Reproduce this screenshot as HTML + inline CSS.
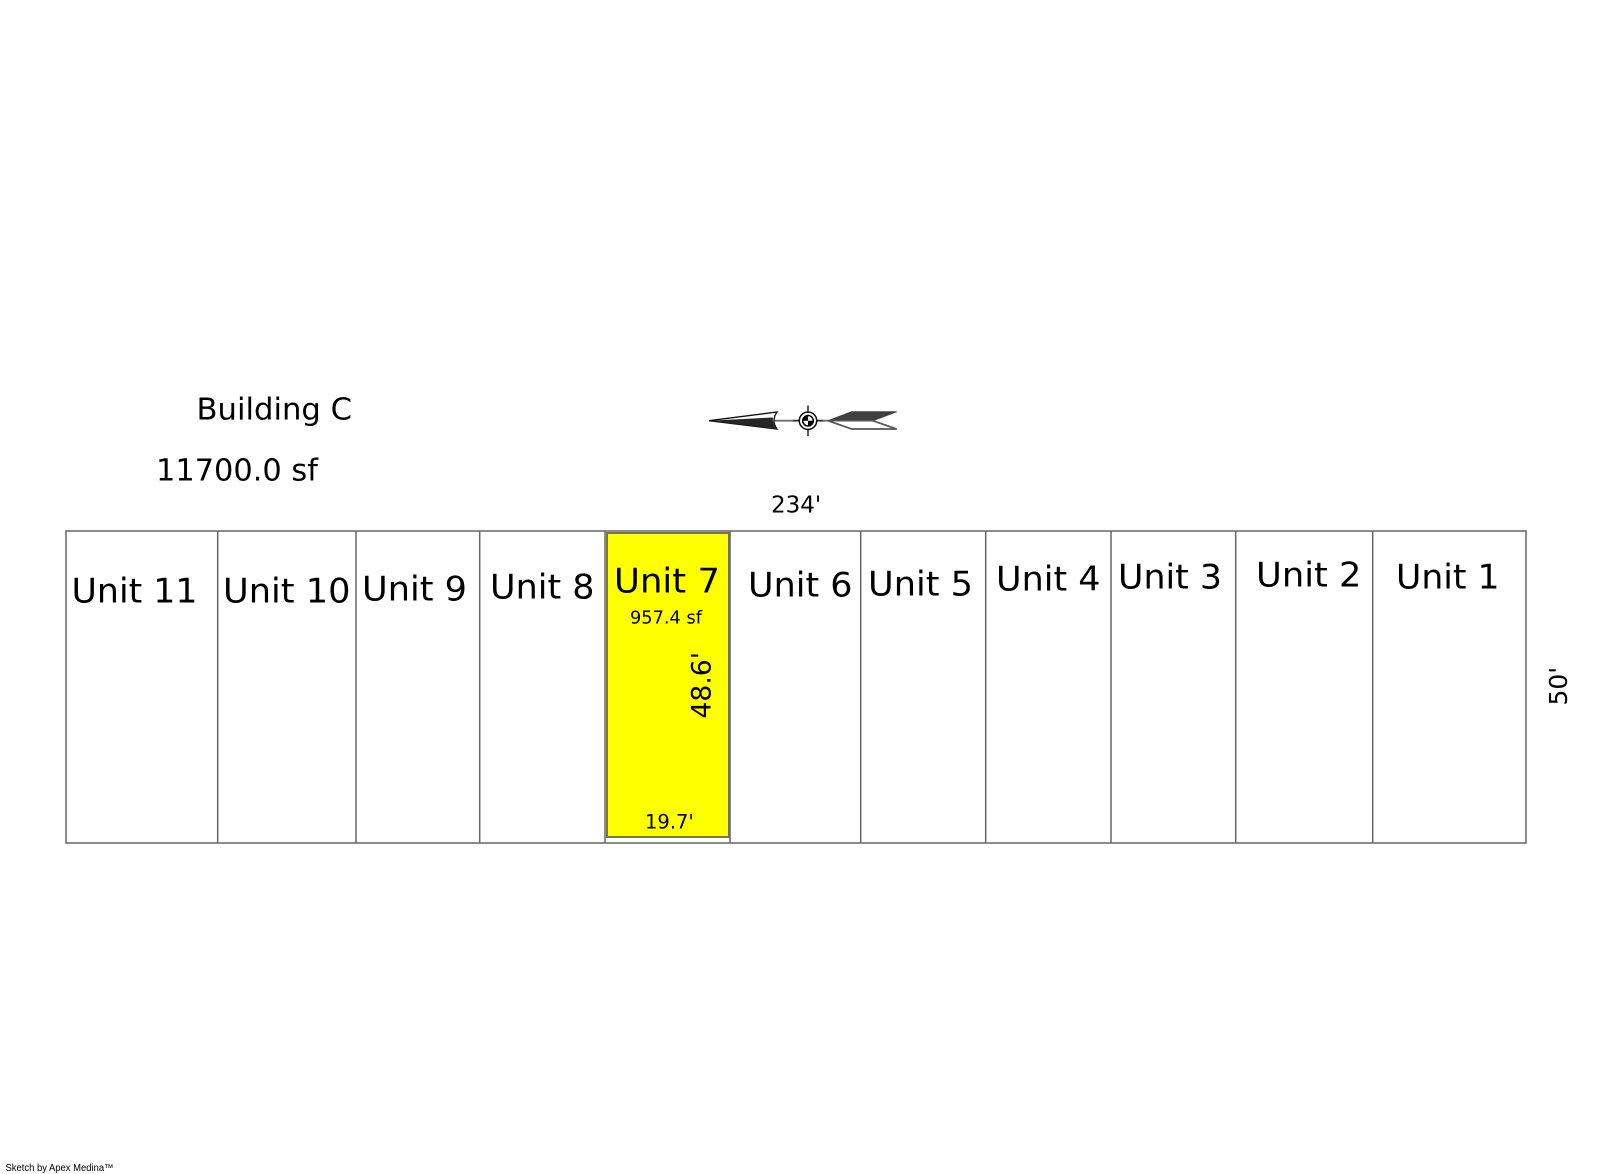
<!DOCTYPE html>
<html><head><meta charset="utf-8"><title>Building C</title>
<style>html,body{margin:0;padding:0;background:#fff}svg{display:block}
text{font-family:"DejaVu Sans",sans-serif;fill:#000}</style></head>
<body>
<svg xmlns="http://www.w3.org/2000/svg" width="1600" height="1174" viewBox="0 0 1600 1174">
<rect width="1600" height="1174" fill="#fff"/>
<rect x="607" y="533" width="122" height="304" fill="#ff0" stroke="#77774f" stroke-width="2"/>
<g stroke="#666" stroke-width="1.5" fill="none">
<rect x="66" y="531" width="1460" height="312"/>
<path d="M217.7 531V843M356 531V843M479.7 531V843M605 531V843M730 531V843M860.7 531V843M985.7 531V843M1111 531V843M1235.7 531V843M1372.7 531V843"/>
</g>
<g font-size="34">
<text x="71.5" y="602.7" textLength="126" lengthAdjust="spacingAndGlyphs">Unit 11</text>
<text x="223" y="602.7" textLength="127.5" lengthAdjust="spacingAndGlyphs">Unit 10</text>
<text x="362" y="600.5" textLength="105" lengthAdjust="spacingAndGlyphs">Unit 9</text>
<text x="490" y="598.5" textLength="104.5" lengthAdjust="spacingAndGlyphs">Unit 8</text>
<text x="614" y="592.5" textLength="106" lengthAdjust="spacingAndGlyphs">Unit 7</text>
<text x="748" y="596.5" textLength="104.5" lengthAdjust="spacingAndGlyphs">Unit 6</text>
<text x="868" y="595.5" textLength="105" lengthAdjust="spacingAndGlyphs">Unit 5</text>
<text x="996" y="590.5" textLength="104.5" lengthAdjust="spacingAndGlyphs">Unit 4</text>
<text x="1118" y="588.5" textLength="104" lengthAdjust="spacingAndGlyphs">Unit 3</text>
<text x="1256" y="586.5" textLength="105.5" lengthAdjust="spacingAndGlyphs">Unit 2</text>
<text x="1396" y="588.5" textLength="103.5" lengthAdjust="spacingAndGlyphs">Unit 1</text>
</g>
<text x="196.5" y="419.3" font-size="30" textLength="155.5" lengthAdjust="spacingAndGlyphs">Building C</text>
<text x="156" y="480.7" font-size="30" textLength="162" lengthAdjust="spacingAndGlyphs">11700.0 sf</text>
<text x="771" y="512.5" font-size="23">234'</text>
<text x="630" y="623.5" font-size="18" textLength="72" lengthAdjust="spacingAndGlyphs">957.4 sf</text>
<text x="645" y="828.5" font-size="19.5">19.7'</text>
<text transform="translate(710.7 718.5) rotate(-90)" font-size="26.6">48.6'</text>
<text transform="translate(1567 705.5) rotate(-90)" font-size="25">50'</text>
<text x="5.5" y="1171" font-size="10" textLength="108" lengthAdjust="spacingAndGlyphs" style="font-family:'Liberation Sans',sans-serif">Sketch by Apex Medina™</text>
<!-- compass -->
<path d="M773 420.7H828" stroke="#6e6e6e" stroke-width="1.8"/>
<path d="M709 420.7L777 412Q771 420.7 777 429Z" fill="#fff" stroke="#111" stroke-width="1.3"/>
<path d="M709 420.7L773 417.5Q772 423 777 429Z" fill="#262626"/>
<path d="M808 405.5V436M793 420.7H823" stroke="#333" stroke-width="1.6"/>
<circle cx="808" cy="420.7" r="8.7" fill="#fff" stroke="#111" stroke-width="1.5"/>
<circle cx="808" cy="420.7" r="6" fill="#000"/>
<path d="M808 420.7V416.2A4.5 4.5 0 0 1 812.5 420.7ZM808 420.7V425.2A4.5 4.5 0 0 1 803.5 420.7Z" fill="#fff"/>
<path d="M828 420.7L851.7 411.7H896.7L872.7 420.7Z" fill="#404040" stroke="#404040"/>
<path d="M828 420.7L851.7 429H896.7L872.7 420.7Z" fill="#fff" stroke="#555" stroke-width="1.7"/>
</svg>
</body></html>
